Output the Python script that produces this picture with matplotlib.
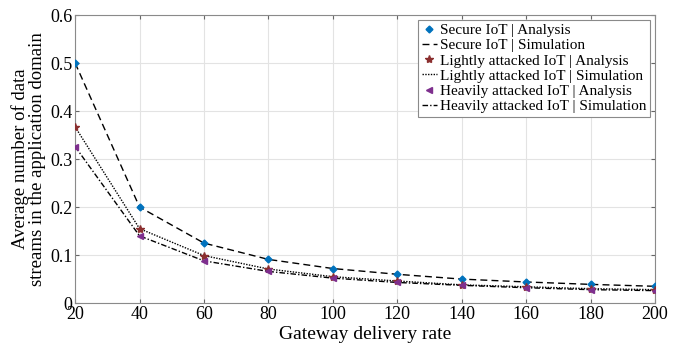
import matplotlib
matplotlib.use("Agg")

import matplotlib.pyplot as plt
import numpy as np

# gateway delivery rate
rate = [20, 40, 60, 80, 100, 120, 140, 160, 180, 200]

# analysis values (markers)
secure_ana = [0.500, 0.200, 0.125, 0.091, 0.072, 0.060, 0.050, 0.044, 0.039, 0.035]
light_ana = [0.367, 0.155, 0.099, 0.071, 0.055, 0.046, 0.038, 0.034, 0.030, 0.028]
heavy_ana = [0.326, 0.140, 0.088, 0.066, 0.052, 0.043, 0.037, 0.032, 0.028, 0.026]

# simulation values (lines)
secure_sim = [0.500, 0.200, 0.125, 0.091, 0.072, 0.060, 0.050, 0.044, 0.039, 0.035]
light_sim = [0.367, 0.155, 0.099, 0.071, 0.055, 0.046, 0.038, 0.034, 0.030, 0.028]
heavy_sim = [0.326, 0.140, 0.088, 0.066, 0.052, 0.043, 0.037, 0.032, 0.028, 0.026]

xticks = [20, 40, 60, 80, 100, 120, 140, 160, 180, 200]
yticks = [0, 0.1, 0.2, 0.3, 0.4, 0.5, 0.6]
ytick_labels = ["0", "0.1", "0.2", "0.3", "0.4", "0.5", "0.6"]

plt.rcParams["font.family"] = ["Liberation Serif", "DejaVu Serif"]

fig = plt.figure(figsize=(6.83, 3.5), dpi=100)
ax = fig.add_axes([0.110, 0.134, 0.849, 0.823])

blue = "#0072BD"
brown = "#8B2F2F"
purple = "#7E2F8E"

ax.plot(rate, secure_ana, linestyle="none", marker="D", markersize=3.5,
        color=blue, label="Secure IoT | Analysis", zorder=4)
ax.plot(rate, secure_sim, linestyle=(0, (5, 3)), color="black", linewidth=1.0,
        label="Secure IoT | Simulation", zorder=3)
ax.plot(rate, light_ana, linestyle="none", marker="*", markersize=6,
        color=brown, label="Lightly attacked IoT | Analysis", zorder=4)
ax.plot(rate, light_sim, linestyle=(0, (1, 1)), color="black", linewidth=1.0,
        label="Lightly attacked IoT | Simulation", zorder=3)
ax.plot(rate, heavy_ana, linestyle="none", marker="<", markersize=4.5,
        color=purple, label="Heavily attacked IoT | Analysis", zorder=4)
ax.plot(rate, heavy_sim, linestyle=(0, (4, 1.5, 1, 1.5)), color="black", linewidth=1.0,
        label="Heavily attacked IoT | Simulation", zorder=3)

ax.set_xlim(20, 200)
ax.set_ylim(0, 0.6)
ax.set_xticks(xticks)
ax.set_yticks(yticks)
ax.set_yticklabels(ytick_labels)
ax.tick_params(labelsize=13, direction="in", length=3, color="#666666",
               top=True, right=True, pad=2)

ax.grid(True, color="#e3e3e3", linewidth=0.8)
ax.set_axisbelow(True)
for sp in ax.spines.values():
    sp.set_color("#8a8a8a")
    sp.set_linewidth(0.8)

ax.set_xlabel("Gateway delivery rate", fontsize=14, labelpad=2)
ax.set_ylabel("Average number of data\nstreams in the application domain",
              fontsize=13.5, labelpad=3, linespacing=1.0)

leg = ax.legend(loc="upper right", fontsize=11, frameon=True, fancybox=False,
                edgecolor="#8a8a8a", framealpha=1, borderpad=0.25,
                labelspacing=0.1, handlelength=1.0, handletextpad=0.2,
                borderaxespad=0.3)
leg.get_frame().set_linewidth(0.8)

fig.savefig("out.png", dpi=100)
